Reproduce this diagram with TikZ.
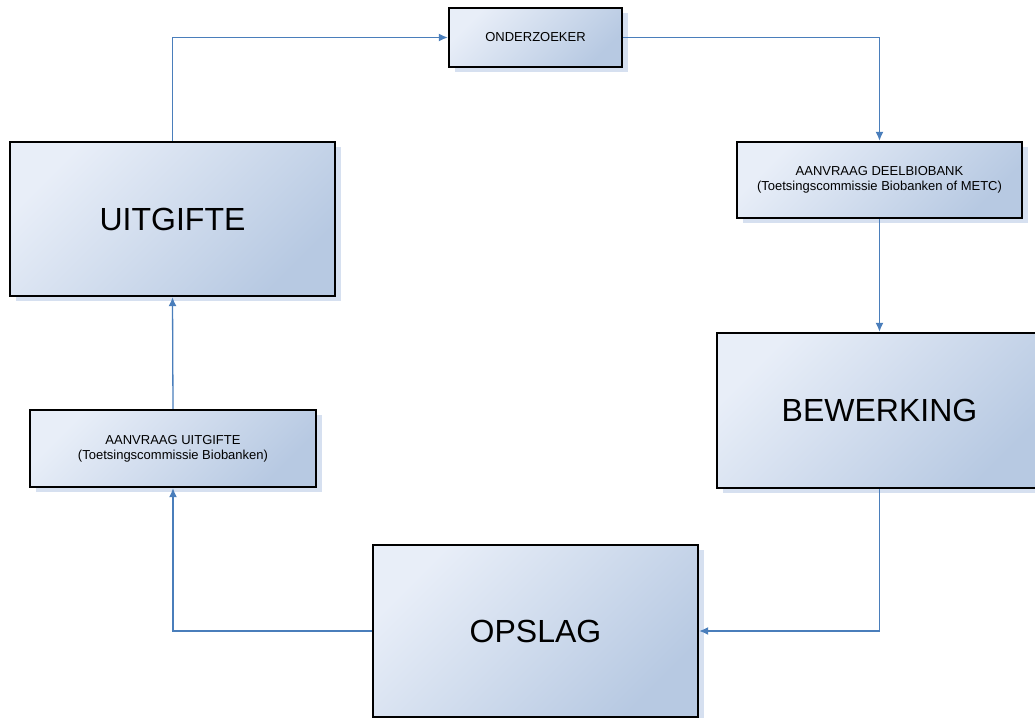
\documentclass[tikz,border=0pt]{standalone}
\usepackage{fontspec}
\setmainfont{Liberation Sans}
\usetikzlibrary{arrows.meta,shadows}

\definecolor{lichtblauw}{HTML}{E8EEF8}
\definecolor{middenblauw}{HTML}{CAD7EA}
\definecolor{donkerblauw}{HTML}{B7C9E2}
\definecolor{schaduw}{HTML}{D6E0F0}
\definecolor{lijnblauw}{HTML}{4A7EBB}

\begin{document}
\begin{tikzpicture}
  [x=1pt,y=-1pt
  ,blok/.style={draw=black, line width=2.4pt, shading=axis,
      top color=lichtblauw, middle color=middenblauw, bottom color=donkerblauw,
      shading angle=45,
      general shadow={fill=schaduw, shadow xshift=6pt, shadow yshift=-5pt},
      inner sep=0pt, align=center}
  ,klein/.style={blok, font=\fontsize{13}{15}\selectfont}
  ,groot/.style={blok, font=\fontsize{32}{36}\selectfont}
  ,pijl/.style={draw=lijnblauw, line width=1.3pt,
      -{Latex[length=9pt,width=8pt]}}
  ]

  \useasboundingbox (0,0) rectangle (1035,717);
  \clip (0,0) rectangle (1035,717);

  % boxes
  \node[klein, minimum width=173pt, minimum height=59pt]
    (ond) at (535.5,37.5) {ONDERZOEKER};
  \node[klein, minimum width=285pt, minimum height=76pt]
    (deel) at (879.5,180) {AANVRAAG DEELBIOBANK\\(Toetsingscommissie Biobanken of METC)};
  \node[groot, minimum width=325pt, minimum height=155pt]
    (bew) at (879.5,410.5) {BEWERKING};
  \node[groot, minimum width=325pt, minimum height=172pt]
    (opslag) at (535.5,631) {OPSLAG};
  \node[klein, minimum width=286pt, minimum height=77pt]
    (aanv) at (173,448.5) {AANVRAAG UITGIFTE\\(Toetsingscommissie Biobanken)};
  \node[groot, minimum width=325pt, minimum height=154pt]
    (uitg) at (172.5,219) {UITGIFTE};

  % connectors
  \draw[pijl] (uitg.north) |- (ond.west);
  \draw[pijl] (ond.east) -| (deel.north);
  \draw[pijl] (deel.south) -- (bew.north);
  \draw[pijl] (bew.south) |- (opslag.east);
  \draw[pijl] (opslag.west) -| (aanv.south);
  \draw[pijl] (aanv.north) -- (uitg.south);

\end{tikzpicture}
\end{document}
